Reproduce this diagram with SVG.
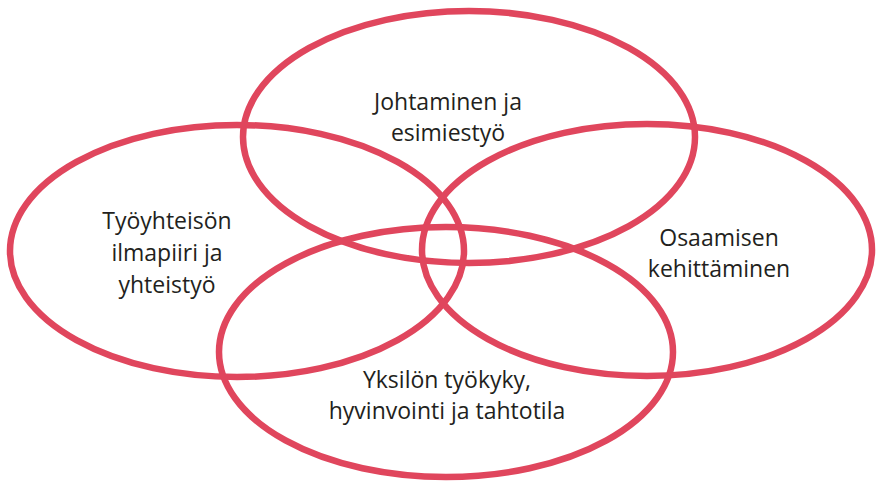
<svg xmlns="http://www.w3.org/2000/svg" width="876" height="483" viewBox="0 0 876 483">
<style>
.c{fill:none;stroke:#e0465d;stroke-width:6.5}
.t{font-family:"Open Sans","Liberation Sans",sans-serif;font-size:23px;fill:#231f20;text-anchor:middle}
</style>
<rect width="876" height="483" fill="#ffffff"/>
<g id="leadership"><ellipse class="c" cx="469" cy="137" rx="226" ry="126"/>
<text class="t"><tspan x="448" y="110">Johtaminen ja</tspan><tspan x="448" y="141">esimiestyö</tspan></text></g>
<g id="community"><ellipse class="c" cx="237" cy="251" rx="227" ry="126"/>
<text class="t"><tspan x="167" y="229">Työyhteisön</tspan><tspan x="167" y="261">ilmapiiri ja</tspan><tspan x="167" y="293">yhteistyö</tspan></text></g>
<g id="competence"><ellipse class="c" cx="647" cy="250" rx="225" ry="126"/>
<text class="t"><tspan x="719" y="246">Osaamisen</tspan><tspan x="719" y="277">kehittäminen</tspan></text></g>
<g id="individual"><ellipse class="c" cx="446" cy="352" rx="227" ry="125"/>
<text class="t"><tspan x="447" y="388">Yksilön työkyky,</tspan><tspan x="447" y="419">hyvinvointi ja tahtotila</tspan></text></g>
<g id="connectors"/>
</svg>
